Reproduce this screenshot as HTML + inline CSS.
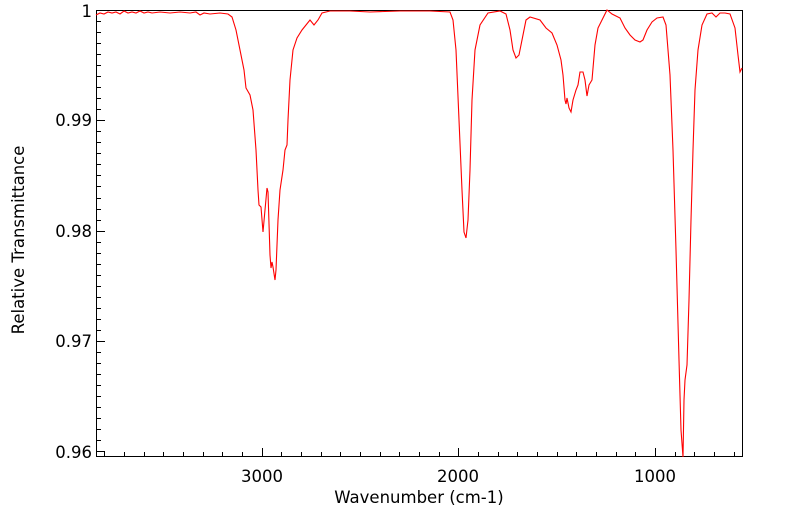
<!DOCTYPE html>
<html><head><style>body{margin:0;background:#fff}svg{display:block}text{font-family:"DejaVu Sans","Liberation Sans",sans-serif;fill:#000}</style></head><body>
<svg id="s" width="799" height="516" xmlns="http://www.w3.org/2000/svg">
<rect x="96.5" y="10.5" width="646" height="446" fill="none" stroke="#000" stroke-width="1"/>
<path id="tk" fill="none" stroke="#000" stroke-width="1" d=""/>
<polyline fill="none" stroke="#f00" stroke-width="1.1" points="96,15 100,13 104,14 108,12 112,13 116,12 120,14 124,11 128,13 132,12 136,13 140,11 144,13 148,12 152,13 160,12 170,13 180,12 190,13 196,12 200,15 204,13 210,14 220,13 228,14 232,17 236,30 240,50 244,70 246,88 250,95 253,110 256,150 258,190 259,205 261,207 263,232 265,210 267,188 268,192 270,255 271,268 272,262 273,267 275,280 276,270 278,220 280,190 283,170 285,150 287,145 288,120 290,80 293,50 297,38 302,30 306,25 310,20 314,25 318,20 322,13 330,11 350,11 370,12 400,11 430,11 450,12 453,20 456,50 459,120 462,190 464,232 466,238 468,220 470,170 472,100 475,50 480,25 488,13 500,11 506,14 510,30 513,50 516,58 519,55 522,40 526,20 530,17 540,20 546,28 552,33 557,45 561,60 563,75 565,100 566,104 567,98 569,108 571,112 573,100 576,90 578,85 580,72 583,72 585,80 587,96 589,85 592,80 595,45 598,28 603,18 607,10 612,14 620,18 625,28 630,35 635,40 640,42 643,40 647,30 652,22 657,18 663,17 666,25 670,75 673,150 676,250 679,360 681,430 683,457 684,400 685,380 687,365 689,300 691,220 693,150 695,90 698,50 702,25 707,14 712,13 716,17 720,13 725,13 730,14 735,28 738,55 740,72 742,68"/>
<g font-size="16.5">
<text x="92" y="17" text-anchor="end">1</text>
<text x="92" y="126" text-anchor="end">0.99</text>
<text x="92" y="237" text-anchor="end">0.98</text>
<text x="92" y="347" text-anchor="end">0.97</text>
<text x="92" y="458" text-anchor="end">0.96</text>
<text x="262" y="482" text-anchor="middle">3000</text>
<text x="458" y="482" text-anchor="middle">2000</text>
<text x="655" y="482" text-anchor="middle">1000</text>
<text x="419" y="503" text-anchor="middle">Wavenumber (cm-1)</text>
<text transform="translate(24,240) rotate(-90)" text-anchor="middle">Relative Transmittance</text>
</g>
</svg>
<script>
var s="";
for(var w=600;w<=3800;w+=100){var x=655+(1000-w)*0.1967;x=Math.round(x)+0.5;var L=(w%1000==0)?9:5;s+="M"+x+" 457v-"+L;}
for(var i=0;i<=40;i++){var y=10+i*11.03;y=Math.round(y)+0.5;var L=(i%10==0)?9:5;s+="M96 "+y+"h"+L;}
document.getElementById('tk').setAttribute("d",s);
</script>
</body></html>
